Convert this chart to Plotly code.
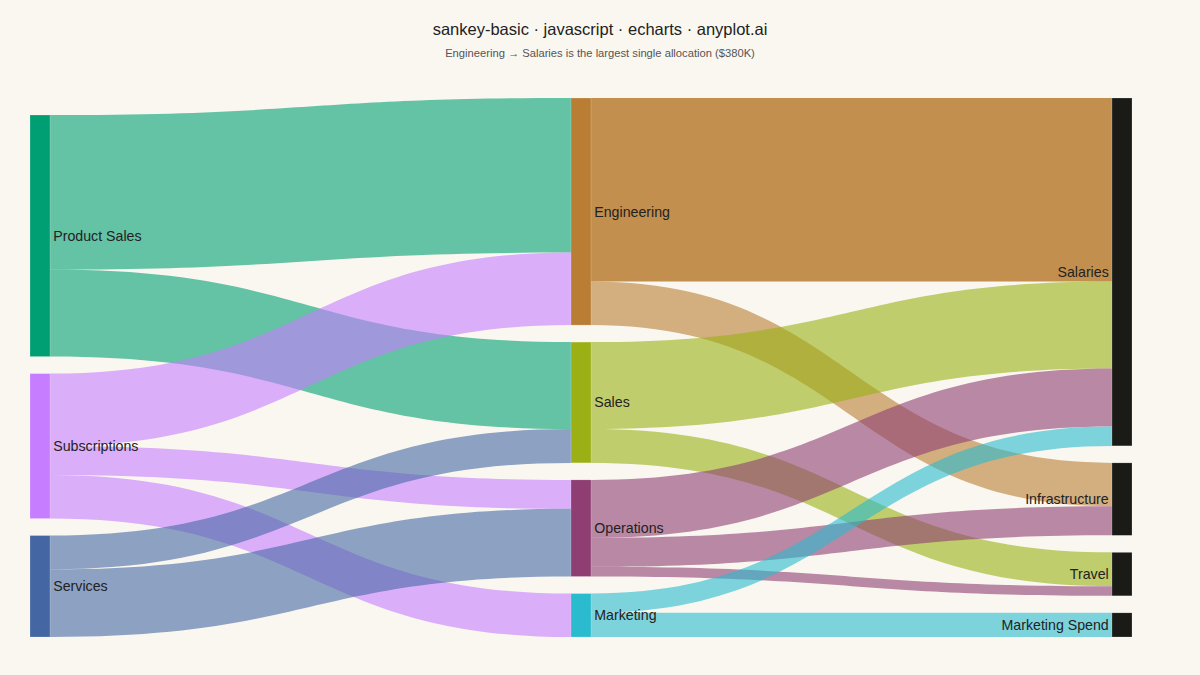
import plotly.graph_objects as go

# nodes: revenue sources -> departments -> expense categories
labels = ["Product Sales", "Subscriptions", "Services",
          "Engineering", "Sales", "Operations", "Marketing",
          "Salaries", "Infrastructure", "Travel", "Marketing Spend"]
node_colors = ["#009E73", "#C77DFF", "#4467A3",
               "#B97D33", "#9AB014", "#8E3E72", "#2ABBCE",
               "#1A1A17", "#1A1A17", "#1A1A17", "#1A1A17"]

# flows in $K
sources = [0, 0, 1, 1, 1, 2, 2, 3, 3, 4, 4, 5, 5, 5, 6, 6]
targets = [3, 4, 3, 5, 6, 4, 5, 7, 8, 7, 9, 7, 8, 9, 7, 10]
values = [320, 180, 150, 60, 90, 70, 140, 380, 90, 180, 70, 120, 60, 20, 40, 50]


def rgba(hex_color, alpha):
    h = hex_color.lstrip("#")
    r, g, b = int(h[0:2], 16), int(h[2:4], 16), int(h[4:6], 16)
    return f"rgba({r},{g},{b},{alpha})"


# the biggest flow gets highlighted
top = values.index(max(values))
link_colors = [rgba(node_colors[s], 0.85 if i == top else 0.6)
               for i, s in enumerate(sources)]

fig = go.Figure(go.Sankey(
    arrangement="snap",
    node=dict(
        label=labels,
        color=node_colors,
        pad=17,
        thickness=20,
        line=dict(color="rgba(255,255,255,0.4)", width=0.5),
    ),
    link=dict(
        source=sources,
        target=targets,
        value=values,
        color=link_colors,
    ),
    textfont=dict(family="Liberation Sans, Arial, sans-serif", size=14.2,
                  color="#222222", shadow="none"),
))

fig.update_layout(
    width=1200,
    height=675,
    paper_bgcolor="#FAF7F0",
    plot_bgcolor="#FAF7F0",
    margin=dict(l=30, r=68, t=98, b=38),
    title=dict(
        text="sankey-basic · javascript · echarts · anyplot.ai"
             "<br><span style='font-size:11.2px;color:#555555'>"
             "Engineering → Salaries is the largest single allocation ($380K)</span>",
        x=0.5,
        y=0.948,
        xanchor="center",
        yanchor="top",
        font=dict(family="Liberation Sans, Arial, sans-serif", size=16.5, color="#222222"),
    ),
)

fig.write_html("out.html", config={"displayModeBar": False},
               post_script="document.body.style.margin='0';")
